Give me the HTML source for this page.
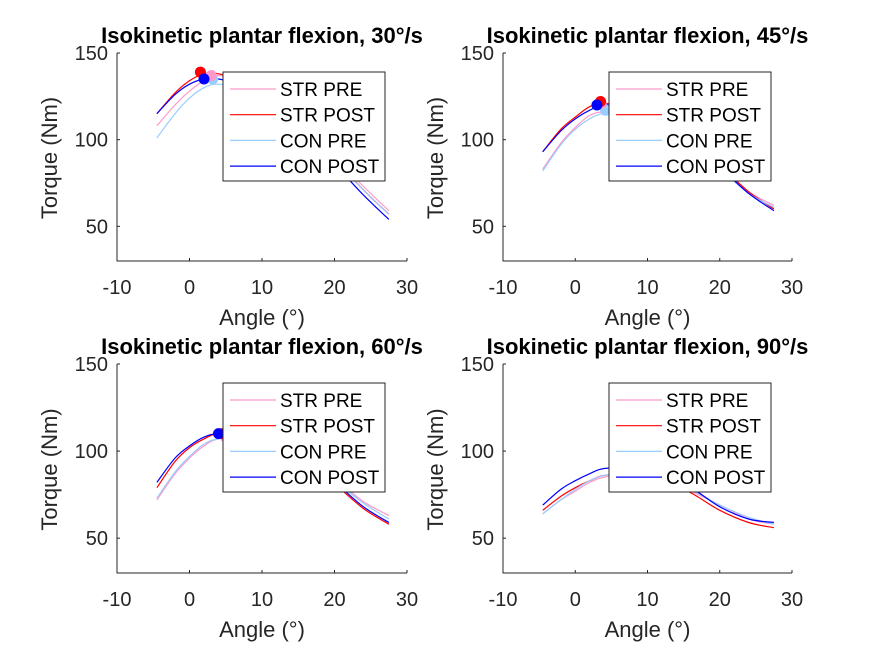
<!DOCTYPE html>
<html><head><meta charset="utf-8"><style>
body{margin:0;background:#fff;}
svg{display:block;font-family:"Liberation Sans",Arial,sans-serif;}
</style></head><body>
<svg id="fig" width="875" height="656" viewBox="0 0 875 656" xmlns="http://www.w3.org/2000/svg"></svg>
<script>
const angles = [-4.5,-2,0,2,4,8,12,16,20,24,27.5];
const xTicks = [-10,0,10,20,30];
const yTicks = [50,100,150];
const seriesNames = ["STR PRE","STR POST","CON PRE","CON POST"];
const panelTitles = ["Isokinetic plantar flexion, 30°/s","Isokinetic plantar flexion, 45°/s","Isokinetic plantar flexion, 60°/s","Isokinetic plantar flexion, 90°/s"];
// 30 deg/s
const p30StrPre  = [108,120,128,134,137,133,122,107,90,73,59];
const p30StrPost = [115,127,134,138,138,133,121,106,89,71,57];
const p30ConPre  = [101,115,124,130,132,129,119,104,88,71,57];
const p30ConPost = [115,126,132,135,135,130,118,103,86,68,54];
const p30PeakX = [3,1.5,3.2,2];
const p30PeakY = [137,139,135,135];
// 45 deg/s
const p45StrPre  = [83,98,107,114,116,115,107,96,84,70,62];
const p45StrPost = [93,106,113,119,121,119,110,98,85,70,60];
const p45ConPre  = [82,97,106,112,115,114,106,95,83,69,61];
const p45ConPost = [93,105,112,117,120,118,109,97,84,69,59];
const p45PeakX = [3.6,3.5,4.2,3.0];
const p45PeakY = [121,122,117,120];
// 60 deg/s
const p60StrPre  = [72,87,96,103,107,108,103,94,84,71,63];
const p60StrPost = [79,94,102,107,110,109,103,93,81,67,58];
const p60ConPre  = [73,88,97,104,107,108,103,94,83,70,61];
const p60ConPost = [82,96,103,108,110,109,103,93,82,68,59];
const p60PeakX = [5,4.5,5,4];
const p60PeakY = [108,110,108,110];
// 90 deg/s
const p90StrPre  = [64,72,77,82,85,87,84,77,69,61,58];
const p90StrPost = [66,74,79,83,86,87,83,76,66,59,56];
const p90ConPre  = [64,72,78,83,86,88,85,78,69,62,58];
const p90ConPost = [69,78,83,87,90,90,86,79,68,61,59];
const p90PeakX = [7,6,7,6];
const p90PeakY = [87,87,88,90];

const colors = ["#ff99cc","#ff0000","#99ccff","#0000ff"];
const NS="http://www.w3.org/2000/svg";
const svg=document.getElementById('fig');
function mk(tag,attrs,parent){const e=document.createElementNS(NS,tag);for(const k in attrs)e.setAttribute(k,attrs[k]);(parent||svg).appendChild(e);return e;}
function smoothPath(pts){
 let d='M'+pts[0][0].toFixed(1)+' '+pts[0][1].toFixed(1);
 for(let i=0;i<pts.length-1;i++){
  const p0=pts[Math.max(0,i-1)],p1=pts[i],p2=pts[i+1],p3=pts[Math.min(pts.length-1,i+2)];
  const c1=[p1[0]+(p2[0]-p0[0])/6,p1[1]+(p2[1]-p0[1])/6];
  const c2=[p2[0]-(p3[0]-p1[0])/6,p2[1]-(p3[1]-p1[1])/6];
  d+=` C${c1[0].toFixed(1)} ${c1[1].toFixed(1)} ${c2[0].toFixed(1)} ${c2[1].toFixed(1)} ${p2[0].toFixed(1)} ${p2[1].toFixed(1)}`;
 }
 return d;
}

const panels=[
 {x0:117,x1:407,y0:53,y1:261,data:[p30StrPre,p30StrPost,p30ConPre,p30ConPost],px:p30PeakX,py:p30PeakY,name:'panel-30'},
 {x0:503,x1:792,y0:53,y1:261,data:[p45StrPre,p45StrPost,p45ConPre,p45ConPost],px:p45PeakX,py:p45PeakY,name:'panel-45'},
 {x0:117,x1:407,y0:364,y1:573,data:[p60StrPre,p60StrPost,p60ConPre,p60ConPost],px:p60PeakX,py:p60PeakY,name:'panel-60'},
 {x0:503,x1:792,y0:364,y1:573,data:[p90StrPre,p90StrPost,p90ConPre,p90ConPost],px:p90PeakX,py:p90PeakY,name:'panel-90'}
];
panels.forEach((p,i)=>{
 const g=mk('g',{});
 
 
 const sx=v=>p.x0+(v+10)/40*(p.x1-p.x0);
 const sy=v=>p.y1-(v-30)/120*(p.y1-p.y0);
 p.data.forEach((vals,s)=>{
  const pts=vals.map((v,k)=>[sx(angles[k]),sy(v)]);
  const path=mk('path',{d:smoothPath(pts),fill:'none',stroke:colors[s],'stroke-width':1.2},g);
  
  
 });
 [2,0,1,3].forEach(s=>{
  const c=mk('circle',{cx:sx(p.px[s]),cy:sy(p.py[s]),r:5.5,fill:colors[s]},g);
  
  
 });
 const ax=mk('path',{d:`M${p.x0} ${p.y0} L${p.x0} ${p.y1} L${p.x1} ${p.y1}`,fill:'none',stroke:'#262626','stroke-width':1},g);
 
 
 xTicks.forEach(t=>{
  const x=sx(t);
  mk('line',{x1:x,y1:p.y1,x2:x,y2:p.y1-3,stroke:'#262626'},g);
  const tx=mk('text',{x:x,y:p.y1+33,'text-anchor':'middle','font-size':20,fill:'#262626'},g);
  tx.textContent=t;
  
  
 });
 yTicks.forEach(t=>{
  const y=sy(t);
  mk('line',{x1:p.x0,y1:y,x2:p.x0+3,y2:y,stroke:'#262626'},g);
  const tx=mk('text',{x:p.x0-9,y:y+7,'text-anchor':'end','font-size':20,fill:'#262626'},g);
  tx.textContent=t;
  
  
 });
 const xl=mk('text',{x:(p.x0+p.x1)/2,y:p.y1+64,'text-anchor':'middle','font-size':22,fill:'#262626'},g);
 xl.textContent='Angle (°)';
 
 
 const yl=mk('text',{x:0,y:0,'text-anchor':'middle','font-size':22,fill:'#262626',transform:`translate(${p.x0-60},${(p.y0+p.y1)/2+1}) rotate(-90)`},g);
 yl.textContent='Torque (Nm)';
 
 
 const ti=mk('text',{x:(p.x0+p.x1)/2,y:p.y0-10,'text-anchor':'middle','font-size':22,'font-weight':'bold',fill:'#000'},g);
 ti.textContent=panelTitles[i];
 
 
 const lx=p.x0+106, ly=p.y0+19;
 const lg=mk('g',{},g);
 
 
 mk('rect',{x:lx,y:ly,width:162,height:109,fill:'#fff',stroke:'#262626','stroke-width':1},lg);
 seriesNames.forEach((n,s)=>{
  const yy=ly+17+s*25.7;
  const ln=mk('line',{x1:lx+7,y1:yy,x2:lx+53,y2:yy,stroke:colors[s],'stroke-width':1.2},lg);
  
  
  const tx=mk('text',{x:lx+57,y:yy+7,'font-size':19,fill:'#000'},lg);
  tx.textContent=n;
  
  
 });
});
</script>
</body></html>
